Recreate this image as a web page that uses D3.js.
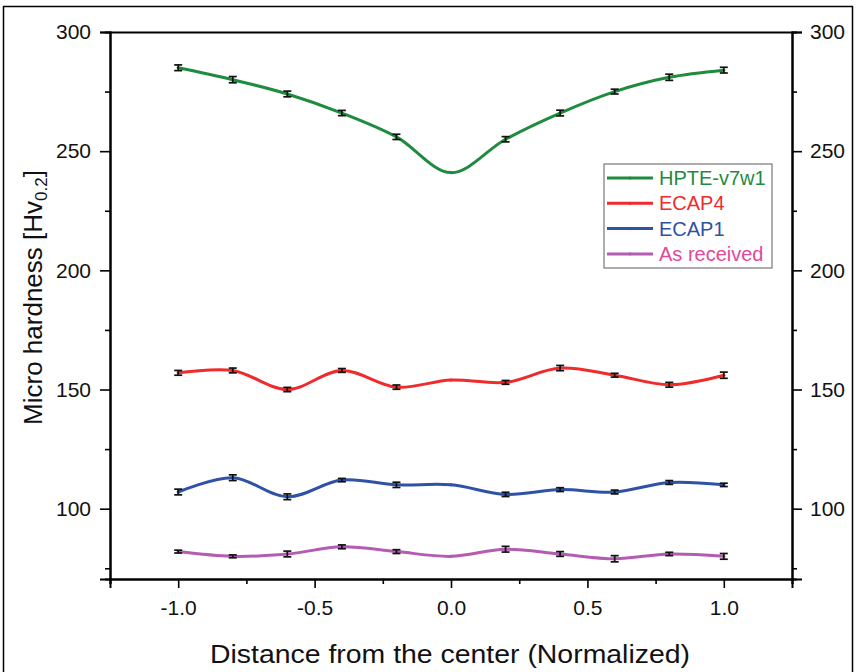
<!DOCTYPE html>
<html><head><meta charset="utf-8">
<script src="https://cdn.jsdelivr.net/npm/d3@7"></script>
<style>body{margin:0;background:#fff}svg{display:block}text{font-family:"Liberation Sans",Arial,sans-serif}</style>
</head><body><svg id="c" width="856" height="672"></svg>
<script>
const positions = [-1.0,-0.8,-0.6,-0.4,-0.2,0.0,0.2,0.4,0.6,0.8,1.0];
const seriesNames = ["HPTE-v7w1","ECAP4","ECAP1","As received"];
const hpteValues = [285,280,274,266,256,241,255,266,275,281,284];
const hpteErrors = [1.2,1.3,1.2,1.1,1.1,0,1.1,1.2,1.0,1.3,1.2];
const ecap4Values = [157,158,150,158,151,154,153,159,156,152,156];
const ecap4Errors = [1.0,1.0,0.9,0.8,0.9,0,0.8,1.1,0.8,1.0,1.3];
const ecap1Values = [107,113,105,112,110,110,106,108,107,111,110];
const ecap1Errors = [1.2,1.2,1.2,0.7,1.1,0,0.9,0.8,0.8,0.8,0.7];
const asRecValues = [82,80,81,84,82,80,83,81,79,81,80];
const asRecErrors = [0.6,0.6,1.2,0.8,0.8,0,1.2,1.0,1.3,0.7,1.2];
const xTicks = [-1.0,-0.5,0.0,0.5,1.0];
const yTicks = [100,150,200,250,300];
const lineColors = ["#1e8b3e","#ef2b2b","#2f51a6","#b45bb4"];
const textColors = ["#1e8b3e","#ef2b2b","#2f51a6","#e2489a"];

const svg = d3.select("#c");
const L=110,R=792,T=32,B=579;
const x = d3.scaleLinear().domain([-1.25,1.25]).range([L,R]);
const y = d3.scaleLinear().domain([70.5,300]).range([B,T]);

// outer frame
svg.append("path").attr("d","M3.5,680 V6.5 H852.5 V680").attr("fill","none").attr("stroke","#000").attr("stroke-width",1.5);

const fontSize = 21;
const fmt = d => d.toFixed(1);
svg.append("g").attr("transform",`translate(0,${B})`)
  .call(d3.axisBottom(x).tickValues(xTicks).tickFormat(fmt).tickSize(9).tickPadding(12));
svg.append("g").attr("transform",`translate(0,${B})`)
  .call(d3.axisBottom(x).tickValues([-1.25,-0.75,-0.25,0.25,0.75,1.25]).tickFormat("").tickSize(5));
svg.append("g").attr("transform",`translate(${L},0)`)
  .call(d3.axisLeft(y).tickValues(yTicks).tickSize(10).tickPadding(9));
svg.append("g").attr("transform",`translate(${L},0)`)
  .call(d3.axisLeft(y).tickValues([75,125,175,225,275]).tickFormat("").tickSize(5));
svg.append("g").attr("transform",`translate(${R},0)`)
  .call(d3.axisRight(y).tickValues(yTicks).tickSize(10).tickPadding(8));
svg.append("g").attr("transform",`translate(${R},0)`)
  .call(d3.axisRight(y).tickValues([75,125,175,225,275]).tickFormat("").tickSize(5));
svg.append("g").attr("transform",`translate(0,${T})`)
  .call(d3.axisTop(x).tickValues([]).tickSizeOuter(0));
svg.selectAll(".domain").attr("stroke","#000").attr("stroke-width",2);
svg.selectAll(".tick line").attr("stroke","#000").attr("stroke-width",1.6);
svg.selectAll(".tick text").attr("font-size",fontSize).attr("fill","#111").attr("font-family","Liberation Sans, Arial, sans-serif");

// axis titles
svg.append("text").attr("x",(L+R)/2 - 1).attr("y",663).attr("text-anchor","middle")
  .attr("font-size",25).attr("fill","#111").attr("textLength",480).attr("lengthAdjust","spacingAndGlyphs")
  .text("Distance from the center (Normalized)");
const yt = svg.append("text").attr("transform",`translate(42,${(T+B)/2 - 8}) rotate(-90)`)
  .attr("text-anchor","middle").attr("font-size",26).attr("fill","#111");
yt.append("tspan").text("Micro hardness [Hv");
yt.append("tspan").attr("font-size",17).attr("dy",5).text("0.2");
yt.append("tspan").attr("dy",-5).text("]");

const allValues = [hpteValues,ecap4Values,ecap1Values,asRecValues];
const allErrors = [hpteErrors,ecap4Errors,ecap1Errors,asRecErrors];
const line = d3.line().x((d,i)=>x(positions[i])).y(d=>y(d)).curve(d3.curveCatmullRom.alpha(0.5));

allValues.forEach((vals,si)=>{
  const g = svg.append("g");
  g.append("path").attr("d",line(vals)).attr("fill","none").attr("stroke",lineColors[si]).attr("stroke-width",3);
  g.selectAll("circle").data(vals).join("circle")
    .attr("cx",(d,i)=>x(positions[i])).attr("cy",d=>y(d)).attr("r",1.6).attr("fill",lineColors[si]);
  const errs = allErrors[si];
  const eb = g.selectAll("g.eb").data(vals.map((v,i)=>({v,e:errs[i],p:positions[i]})).filter(d=>d.e>0)).join("g");
  eb.append("line").attr("x1",d=>x(d.p)).attr("x2",d=>x(d.p)).attr("y1",d=>y(d.v-d.e)).attr("y2",d=>y(d.v+d.e))
    .attr("stroke","#111").attr("stroke-width",1.7);
  eb.append("line").attr("x1",d=>x(d.p)-4).attr("x2",d=>x(d.p)+4).attr("y1",d=>y(d.v-d.e)).attr("y2",d=>y(d.v-d.e))
    .attr("stroke","#111").attr("stroke-width",1.7);
  eb.append("line").attr("x1",d=>x(d.p)-4).attr("x2",d=>x(d.p)+4).attr("y1",d=>y(d.v+d.e)).attr("y2",d=>y(d.v+d.e))
    .attr("stroke","#111").attr("stroke-width",1.7);
});

// legend
const lg = svg.append("g");
lg.append("rect").attr("x",604).attr("y",164).attr("width",168).attr("height",104)
  .attr("fill","#fff").attr("stroke","#777").attr("stroke-width",1.2);
seriesNames.forEach((n,i)=>{
  const yy = 178 + i*25.3;
  lg.append("line").attr("x1",607).attr("x2",653).attr("y1",yy).attr("y2",yy).attr("stroke",lineColors[i]).attr("stroke-width",3);
  lg.append("circle").attr("cx",630).attr("cy",yy).attr("r",1.6).attr("fill",lineColors[i]);
  lg.append("text").attr("x",659).attr("y",yy+7).attr("font-size",20).attr("fill",textColors[i]).text(n);
});
</script></body></html>
